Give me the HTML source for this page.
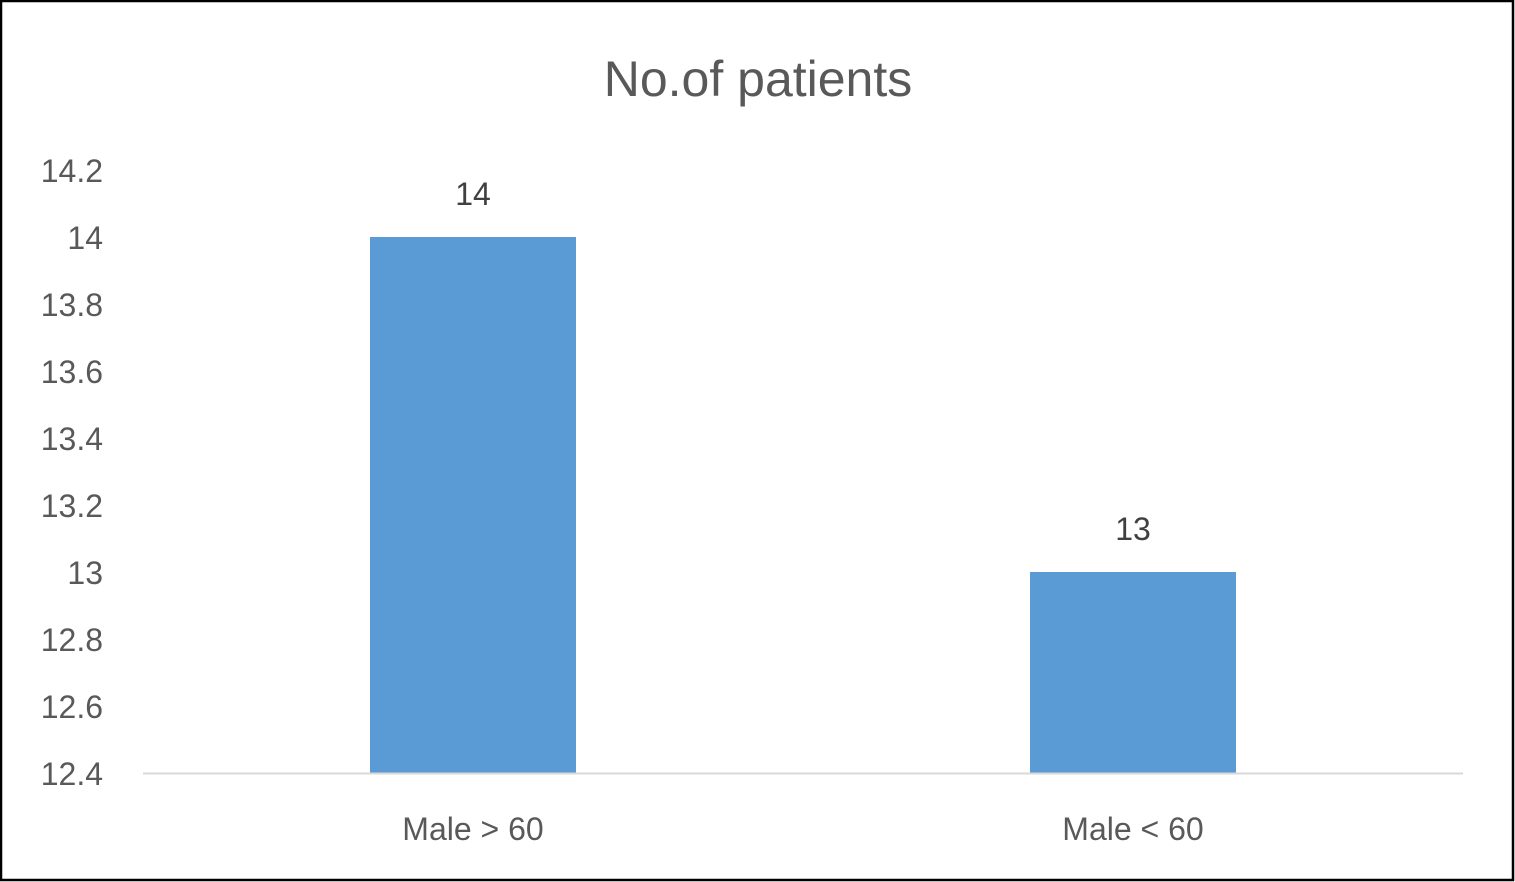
<!DOCTYPE html>
<html><head><meta charset="utf-8"><style>
body{margin:0;background:#fff}
svg{display:block;font-family:"Liberation Sans",sans-serif}
</style></head><body>
<svg id="chart" width="1515" height="882">
<rect x="1" y="1" width="1512" height="879" fill="#fff" stroke="#000" stroke-width="2.5"/>
<text x="758" y="96" text-anchor="middle" font-size="50" fill="#595959">No.of patients</text>
<g id="yticks"></g><g id="bars"></g><g id="xlabels"></g>
<line x1="143" y1="773.5" x2="1463" y2="773.5" stroke="#d9d9d9" stroke-width="2"/>
</svg>
<script>
const categories=["Male > 60","Male < 60"];
const values=[14,13];
const yTicks=[12.4,12.6,12.8,13,13.2,13.4,13.6,13.8,14,14.2];
const yMin=12.4,yMax=14.2;
const y=v=>773-(v-yMin)/(yMax-yMin)*603;
const x0=143,x1=1463,bandW=(x1-x0)/categories.length;
const ns="http://www.w3.org/2000/svg";
function mk(t,a,p){const e=document.createElementNS(ns,t);for(const k in a)e.setAttribute(k,a[k]);p.appendChild(e);return e;}
const yt=document.getElementById('yticks');
yTicks.forEach(v=>{const t=mk('text',{x:103,y:y(v)+12,'text-anchor':'end','font-size':32,fill:'#595959'},yt);


t.textContent=String(v);});
const bg=document.getElementById('bars'),xl=document.getElementById('xlabels');
categories.forEach((c,i)=>{const cx=x0+bandW*(i+0.5),w=206;
const r=mk('rect',{x:cx-w/2,y:y(values[i]),width:w,height:773-y(values[i]),fill:'#5b9bd5'},bg);


const l=mk('text',{x:cx,y:y(values[i])-32,'text-anchor':'middle','font-size':32,fill:'#404040'},bg);


l.textContent=values[i];
const t=mk('text',{x:cx,y:840,'text-anchor':'middle','font-size':32,fill:'#595959'},xl);


t.textContent=c;});
</script>
</body></html>
